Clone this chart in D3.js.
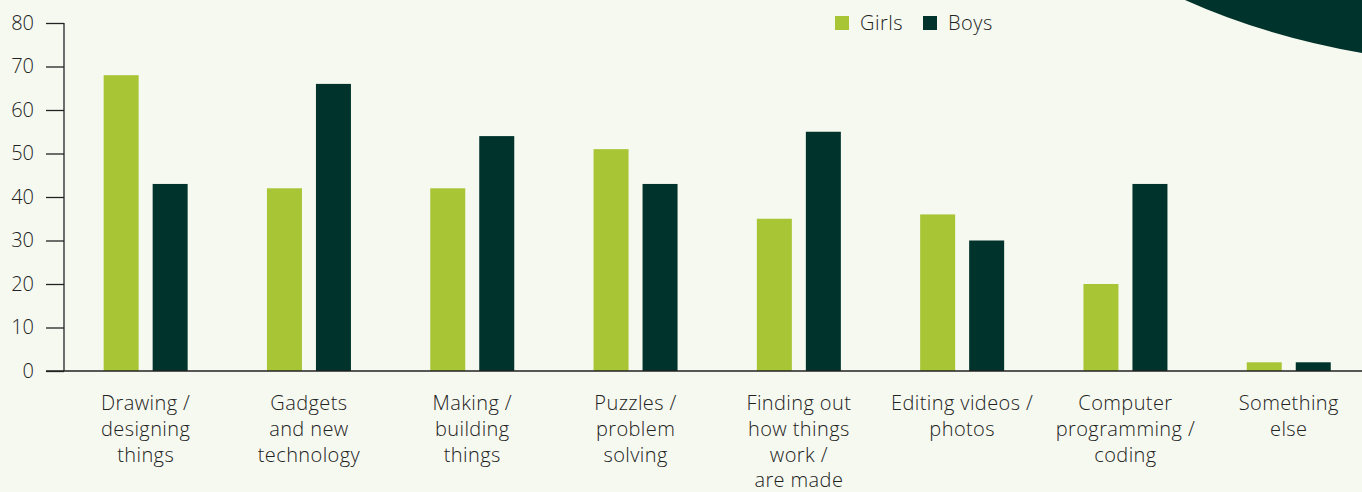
<!DOCTYPE html>
<html lang="en">
<head>
<meta charset="UTF-8">
<title>Girls vs Boys interests</title>
<script src="https://d3js.org/d3.v7.min.js"></script>
<style>
  html, body { margin: 0; padding: 0; background: #f6f9f0; }
  svg { display: block; font-family: "Open Sans", "Lato", sans-serif; font-weight: 300; }
</style>
</head>
<body>
<svg width="1362" height="492"></svg>
<script>
  const categories = [
    ["Drawing /", "designing", "things"],
    ["Gadgets", "and new", "technology"],
    ["Making /", "building", "things"],
    ["Puzzles /", "problem", "solving"],
    ["Finding out", "how things", "work /", "are made"],
    ["Editing videos /", "photos"],
    ["Computer", "programming /", "coding"],
    ["Something", "else"]
  ];
  const girls = [68, 42, 42, 51, 35, 36, 20, 2];
  const boys = [43, 66, 54, 43, 55, 30, 43, 2];
  const yTicks = [0, 10, 20, 30, 40, 50, 60, 70, 80];
  const seriesNames = ["Girls", "Boys"];
  const seriesColors = ["#a8c536", "#00332b"];

  const svg = d3.select("svg");
  const W = 1362, H = 492;
  const axisX = 64, y0 = 371, y80 = 23;

  // decorative corner shape
  svg.append("path")
    .attr("d", "M1185,0 Q1265,36 1362,53 L1362,0 Z")
    .attr("fill", "#00332b");

  const x = d3.scaleBand()
    .domain(d3.range(categories.length))
    .range([axisX, axisX + 163.3 * categories.length]);
  const y = d3.scaleLinear().domain([0, 80]).range([y0, y80]);

  const inner = d3.scaleOrdinal().domain(seriesNames).range([-42, 7]);
  const barW = 35;

  const rows = categories.map((c, i) => ({ i, values: [girls[i], boys[i]] }));

  const groups = svg.selectAll(".grp").data(rows).enter().append("g")
    .attr("class", "grp")
    .attr("transform", d => `translate(${x(d.i) + x.bandwidth() / 2},0)`);

  groups.selectAll("rect")
    .data(d => d.values.map((v, k) => ({ v, k })))
    .enter().append("rect")
    .attr("x", d => inner(seriesNames[d.k]))
    .attr("width", barW)
    .attr("y", d => y(d.v))
    .attr("height", d => y(0) - y(d.v))
    .attr("fill", d => seriesColors[d.k]);

  // y axis
  const yAxis = svg.append("g").attr("transform", `translate(${axisX},0)`)
    .call(d3.axisLeft(y).tickValues(yTicks).tickSize(18).tickPadding(12));
  yAxis.select(".domain").attr("stroke", "#222").attr("stroke-width", 1.3)
    .attr("d", `M0,${y80}V${y0}`);
  yAxis.selectAll(".tick line").attr("stroke", "#222").attr("stroke-width", 1.3);
  yAxis.selectAll(".tick text")
    .attr("fill", "#222").style("font-size", "20px")
    .style("font-family", "'Open Sans', sans-serif").style("font-weight", 300);

  // baseline
  svg.append("line")
    .attr("x1", axisX - 18).attr("x2", W)
    .attr("y1", y0).attr("y2", y0)
    .attr("stroke", "#222").attr("stroke-width", 1.3);

  // category labels
  const labels = svg.append("g").selectAll("text").data(categories).enter().append("text")
    .attr("text-anchor", "middle")
    .attr("fill", "#222")
    .style("font-size", "20px")
    .style("letter-spacing", "0.4px")
    .attr("transform", (d, i) => `translate(${x(i) + x.bandwidth() / 2},410)`);
  labels.selectAll("tspan").data(d => d).enter().append("tspan")
    .attr("x", 0)
    .attr("y", (d, j) => j * 25.8)
    .text(d => d);

  // legend
  const legendX = [835, 923];
  const legend = svg.append("g").selectAll("g").data(seriesNames).enter().append("g")
    .attr("transform", (d, i) => `translate(${legendX[i]},16)`);
  legend.append("rect").attr("width", 14).attr("height", 14)
    .attr("fill", (d, i) => seriesColors[i]);
  legend.append("text").attr("x", 25).attr("y", 14)
    .attr("fill", "#222").style("font-size", "20px")
    .style("letter-spacing", "0.5px")
    .text(d => d);
</script>
</body>
</html>
